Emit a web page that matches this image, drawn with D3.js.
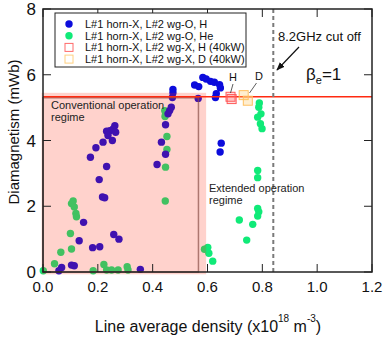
<!DOCTYPE html>
<html>
<head>
<meta charset="utf-8">
<script src="https://cdn.jsdelivr.net/npm/d3@7"></script>
<style>
  body { margin: 0; background: #fff; }
  svg { font-family: "Liberation Sans", Arial, sans-serif; }
</style>
</head>
<body>
<svg width="390" height="340"></svg>
<script>
(function(d3) {
    'use strict';

// H plasma, horn-X + wg-O  [density, diamagnetism]
const hDens = [0.205,0.217,0.225,0.148,0.258,0.277,0.132,0.181,0.207,0.104,0.114,0.068,0.058,0.355,
    0.262,0.256,0.244,0.232,0.265,0.237,0.253,0.219,0.193,0.173,0.232,
    0.474,0.474,0.472,0.468,0.462,0.456,0.447,0.432,0.447,0.416,0.566,
    0.553,0.568,0.583,0.595,0.611,0.625,0.644,0.647,0.632,0.629,0.650,0.646];
const hDia = [2.81,2.28,2.26,1.51,1.14,1.00,0.95,0.74,0.77,0.21,0.19,0.14,0.04,0.08,
    4.45,4.35,4.30,4.28,4.25,4.15,4.00,3.95,3.78,3.49,3.21,
    5.55,5.45,5.31,5.01,4.91,4.81,4.48,3.95,3.58,3.27,5.28,
    5.69,5.64,5.92,5.87,5.80,5.77,5.70,5.60,5.42,5.31,3.92,3.65];

// He plasma, horn-X + wg-O
const heDens = [0.110,0.104,0.114,0.120,0.122,0.100,0.104,0.065,0.042,0.001,0.183,0.222,0.232,0.250,0.274,0.307,0.310,
    0.444,0.447,0.445,0.452,0.452,0.447,0.446,
    0.589,0.601,0.605,0.619,
    0.789,0.787,0.795,0.783,0.793,0.799,0.783,0.783,0.783,0.787,0.783,0.716,0.765,0.743];
const heDia = [2.16,2.08,1.98,1.78,1.68,1.17,0.70,0.60,0.25,0.04,0.04,0.23,0.06,0.06,0.06,0.16,0.06,
    4.91,4.81,4.73,4.12,3.73,3.19,2.16,
    0.69,0.75,0.57,0.33,
    5.14,5.01,4.81,4.71,4.51,4.36,3.09,2.87,1.93,1.83,1.70,1.58,1.45,0.97];

// wg-X, 40 kW
const hXDens = [0.684,0.688];
const hXDia = [5.33,5.26];
const dXDens = [0.732,0.747];
const dXDia = [5.38,5.21];

const legendLabels = ["L#1 horn-X, L#2 wg-O, H", "L#1 horn-X, L#2 wg-O, He",
    "L#1 horn-X, L#2 wg-X, H (40kW)", "L#1 horn-X, L#2 wg-X, D (40kW)"];
const xTicks = [0, 0.2, 0.4, 0.6, 0.8, 1.0, 1.2];
const yTicks = [0, 2, 4, 6, 8];
const betaLevel = 5.33;
const cutoffDens = 0.84;

const svg = d3.select("svg");
const x = d3.scaleLinear().domain([0, 1.2]).range([43, 372]);
const y = d3.scaleLinear().domain([0, 8]).range([272, 9]);

const blue = "#0c0cdc", green = "#10ea78";

const g = svg.append("g");

// points
g.selectAll(".he").data(heDens).enter().append("circle")
    .attr("cx", d => x(d)).attr("cy", (d, i) => y(heDia[i]))
    .attr("r", 3.7).attr("fill", green);
g.selectAll(".h").data(hDens).enter().append("circle")
    .attr("cx", d => x(d)).attr("cy", (d, i) => y(hDia[i]))
    .attr("r", 3.7).attr("fill", blue);

// conventional regime box
g.append("rect")
    .attr("x", x(-0.005)).attr("y", y(5.45))
    .attr("width", x(0.595) - x(-0.005)).attr("height", y(-0.07) - y(5.45))
    .attr("fill", "#ff2a10").attr("opacity", 0.21);
g.append("rect")
    .attr("x", x(0)).attr("y", y(5.3))
    .attr("width", x(0.567) - x(0)).attr("height", y(0) - y(5.3))
    .attr("fill", "none").attr("stroke", "#8a5048").attr("stroke-opacity", 0.7).attr("stroke-width", 1.5);

// beta = 1 line
g.append("line")
    .attr("x1", x(0)).attr("x2", x(1.2))
    .attr("y1", y(betaLevel)).attr("y2", y(betaLevel))
    .attr("stroke", "#ff2a10").attr("stroke-width", 1.5);

// cut off line
g.append("line")
    .attr("x1", x(cutoffDens)).attr("x2", x(cutoffDens))
    .attr("y1", y(8)).attr("y2", y(0))
    .attr("stroke", "#7a7a7a").attr("stroke-width", 2).attr("stroke-dasharray", "4,3");

// wg-X squares
function squares(xs, ys, stroke, fill) {
    g.selectAll(null).data(xs).enter().append("rect")
        .attr("x", d => x(d) - 4.5).attr("y", (d, i) => y(ys[i]) - 4.5)
        .attr("width", 9).attr("height", 9)
        .attr("fill", fill).attr("stroke", stroke).attr("stroke-width", 1);
}
squares(hXDens, hXDia, "#ff5a5a", "rgba(255,120,120,0.25)");
squares(dXDens, dXDia, "#ffc060", "rgba(255,200,100,0.3)");

// frame and ticks
g.append("rect").attr("x", x(0)).attr("y", y(8))
    .attr("width", x(1.2) - x(0)).attr("height", y(0) - y(8))
    .attr("fill", "none").attr("stroke", "#222").attr("stroke-width", 1.5);

const tl = 8;
xTicks.forEach(t => {
    g.append("line").attr("x1", x(t)).attr("x2", x(t)).attr("y1", y(0)).attr("y2", y(0) - tl).attr("stroke", "#222");
    g.append("line").attr("x1", x(t)).attr("x2", x(t)).attr("y1", y(8)).attr("y2", y(8) + tl).attr("stroke", "#222");
    g.append("text").attr("x", x(t)).attr("y", 292).attr("text-anchor", "middle")
        .attr("font-size", 15).attr("fill", "#111").text(d3.format(".1f")(t));
});
yTicks.forEach(t => {
    g.append("line").attr("x1", x(0)).attr("x2", x(0) + tl).attr("y1", y(t)).attr("y2", y(t)).attr("stroke", "#222");
    g.append("line").attr("x1", x(1.2)).attr("x2", x(1.2) - tl).attr("y1", y(t)).attr("y2", y(t)).attr("stroke", "#222");
    g.append("text").attr("x", 36).attr("y", y(t) + 6).attr("text-anchor", "end")
        .attr("font-size", 17).attr("fill", "#111").text(t);
});

// axis titles
svg.append("text").attr("transform", "translate(19,132) rotate(-90)")
    .attr("text-anchor", "middle").attr("font-size", 15).attr("fill", "#111")
    .text("Diamagnetism (mWb)");
const xt = svg.append("text").attr("x", 208).attr("y", 332).attr("text-anchor", "middle")
    .attr("font-size", 16).attr("fill", "#111");
xt.append("tspan").text("Line average density (x10");
xt.append("tspan").attr("dy", -10).attr("font-size", 10).text("18");
xt.append("tspan").attr("dy", 10).text(" m");
xt.append("tspan").attr("dy", -10).attr("font-size", 10).text("-3");
xt.append("tspan").attr("dy", 10).text(")");

// legend
g.append("rect").attr("x", 55).attr("y", 13).attr("width", 191).attr("height", 54)
    .attr("fill", "#fff").attr("stroke", "#222").attr("stroke-width", 1);
legendLabels.forEach((lab, i) => {
    const ly = 24 + i * 11.7;
    if (i < 2) {
        g.append("circle").attr("cx", 69).attr("cy", ly).attr("r", 3.7).attr("fill", i === 0 ? blue : green);
    } else {
        g.append("rect").attr("x", 65).attr("y", ly - 4).attr("width", 8).attr("height", 8)
            .attr("fill", "none").attr("stroke", i === 2 ? "#ff6a6a" : "#ffd080");
    }
    g.append("text").attr("x", 85).attr("y", ly + 4).attr("font-size", 11).attr("fill", "#111").text(lab);
});

// annotations
svg.append("defs").append("marker").attr("id", "ah")
    .attr("viewBox", "0 0 10 10").attr("refX", 9).attr("refY", 5)
    .attr("markerWidth", 7).attr("markerHeight", 7).attr("orient", "auto")
    .append("path").attr("d", "M0,1L10,5L0,9Z").attr("fill", "#111");
g.append("line").attr("x1", 299).attr("y1", 47).attr("x2", 277).attr("y2", 70)
    .attr("stroke", "#111").attr("stroke-width", 1.2).attr("marker-end", "url(#ah)");
g.append("text").attr("x", 278).attr("y", 41).attr("font-size", 13).attr("fill", "#111").text("8.2GHz cut off");

const bt = g.append("text").attr("x", 306).attr("y", 80).attr("font-size", 17).attr("fill", "#111");
bt.append("tspan").text("β");
bt.append("tspan").attr("dy", 4).attr("font-size", 11).text("e");
bt.append("tspan").attr("dy", -4).text("=1");

g.append("text").attr("x", 233).attr("y", 81).attr("text-anchor", "middle").attr("font-size", 11).attr("fill", "#111").text("H");
g.append("line").attr("x1", 233).attr("y1", 84).attr("x2", 230.5).attr("y2", 93).attr("stroke", "#333").attr("stroke-width", 0.8);
g.append("text").attr("x", 259).attr("y", 80).attr("text-anchor", "middle").attr("font-size", 11).attr("fill", "#111").text("D");
g.append("line").attr("x1", 256.5).attr("y1", 83).attr("x2", 249.5).attr("y2", 93).attr("stroke", "#333").attr("stroke-width", 0.8);

g.append("text").attr("x", 51).attr("y", 109).attr("font-size", 11).attr("fill", "#222").text("Conventional operation");
g.append("text").attr("x", 51).attr("y", 121).attr("font-size", 11).attr("fill", "#222").text("regime");
g.append("text").attr("x", 209).attr("y", 192).attr("font-size", 11).attr("fill", "#222").text("Extended operation");
g.append("text").attr("x", 209).attr("y", 204).attr("font-size", 11).attr("fill", "#222").text("regime");

}(d3));
</script>
</body>
</html>
